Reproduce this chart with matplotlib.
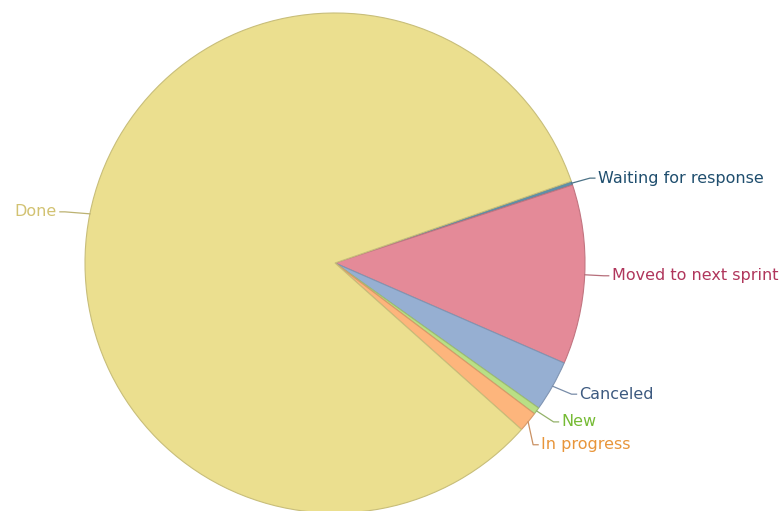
import numpy as np
import matplotlib.pyplot as plt
import matplotlib.colors as mcolors

# Sprint task status breakdown (percent of tasks)
labels = ['Waiting for response', 'Moved to next sprint', 'Canceled', 'New', 'In progress', 'Done']
values = [0.25, 11.6, 3.3, 0.45, 1.3, 83.1]

slice_colors = ['#5f8fa8', '#e48a98', '#96afd2', '#b9df85', '#fdb57c', '#ebdf8f']
text_colors = ['#1f4e6e', '#b0365c', '#3d5a80', '#76bb35', '#e8953a', '#d2c272']

# label nudges in pixels (dx, dy) from the slice's outer mid point
nudges = [(26, -5), (27, 1), (27, 8), (25, 11), (13, 23), (-33, -2)]
PX = 250.0  # pixels per data unit (pie radius)

fig = plt.figure(figsize=(7.84, 5.11), dpi=100)
ax = fig.add_axes([85 / 784, (511 - 263 - 250) / 511, 500 / 784, 500 / 511])

wedges, _ = ax.pie(values, colors=slice_colors, startangle=19.08, counterclock=False,
                   radius=1, wedgeprops=dict(linewidth=0.8))
for w, c in zip(wedges, slice_colors):
    rgb = np.array(mcolors.to_rgb(c)) * 0.85
    w.set_edgecolor(rgb)

for w, lab, tc, sc, (dx, dy) in zip(wedges, labels, text_colors, slice_colors, nudges):
    mid = np.deg2rad((w.theta1 + w.theta2) / 2)
    ax_, ay_ = np.cos(mid), np.sin(mid)
    side = 1 if dx > 0 else -1
    lx, ly = ax_ + dx / PX, ay_ - dy / PX
    ex = lx - side * 8 / PX
    sx = lx - side * 3 / PX
    line_c = np.array(mcolors.to_rgb(sc)) * 0.8
    ax.plot([ax_, ex, sx], [ay_, ly, ly], color=line_c, lw=0.9, clip_on=False)
    ax.text(lx, ly, lab, color=tc, fontsize=11.5, va='center',
            ha='left' if side > 0 else 'right', family='DejaVu Sans')

ax.set_xlim(-1, 1)
ax.set_ylim(-1, 1)
ax.set_aspect('equal')
ax.axis('off')

fig.savefig('out.png', dpi=100)
